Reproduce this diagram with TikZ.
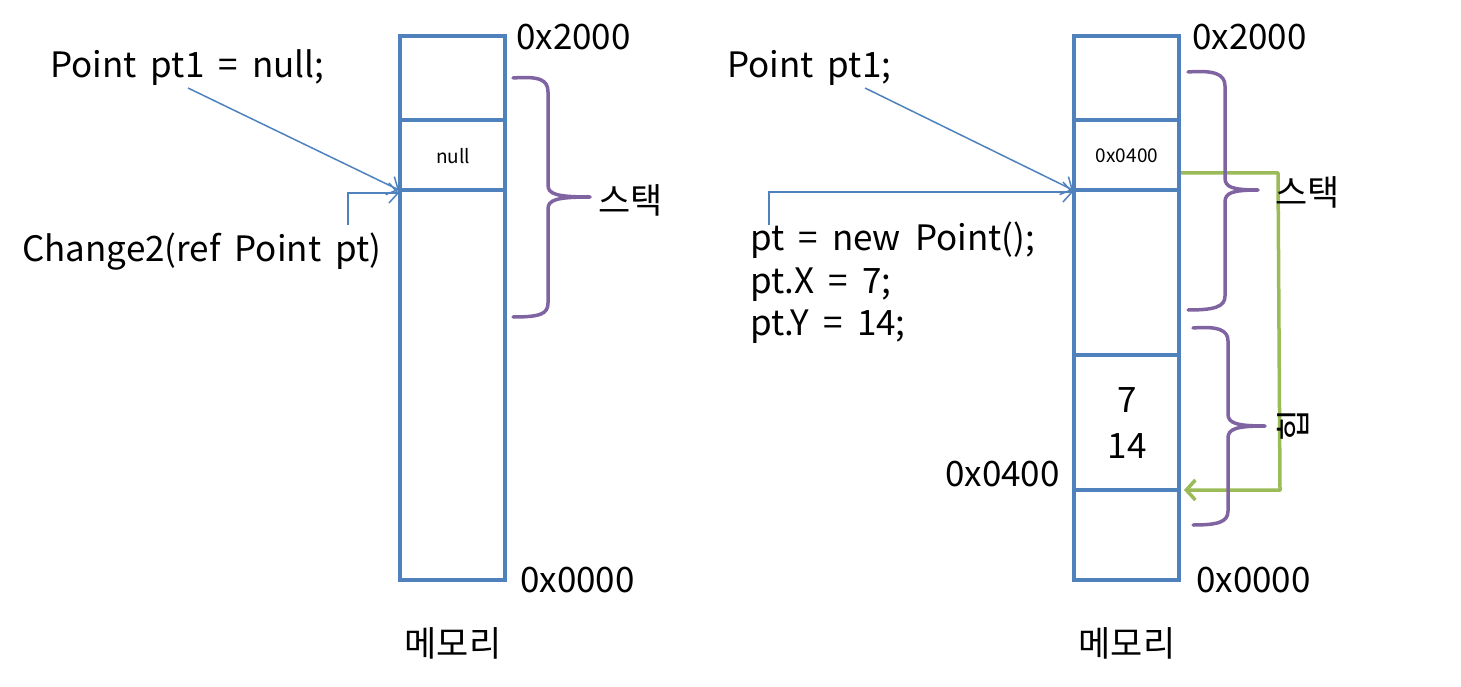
\documentclass[tikz,border=0pt]{standalone}
\usepackage{fontspec}
\setmainfont[WordSpace=1.8]{Noto Sans CJK KR}
\usetikzlibrary{arrows.meta}
\definecolor{boxblue}{HTML}{4F81BD}
\definecolor{brpurple}{HTML}{8064A2}
\definecolor{argreen}{HTML}{9BBB59}
\begin{document}
\begin{tikzpicture}[x=1pt,y=-1pt,
  txt/.style={font=\fontsize{35}{40}\selectfont, inner sep=0pt, anchor=west},
  ctxt/.style={font=\fontsize{35}{40}\selectfont, inner sep=0pt},
  small/.style={font=\fontsize{19}{22}\selectfont, inner sep=0pt},
  mem/.style={draw=boxblue, line width=3.5pt},
  brace/.style={draw=brpurple, line width=3.5pt, line cap=round, line join=round},
  ptr/.style={draw=boxblue, line width=1.5pt, -{Straight Barb[length=9pt,width=20pt,line width=1.5pt]}},
  heapptr/.style={draw=argreen, line width=3.5pt, line join=round, -{Straight Barb[length=9pt,width=20pt,line width=3.5pt]}},
]
\useasboundingbox (0,0) rectangle (1461,687);

% ---------- left memory ----------
\draw[mem] (400,36) rectangle (505,580);
\draw[mem] (400,120) -- (505,120);
\draw[mem] (400,190) -- (505,190);
\coordinate (Lslot) at (399,190);
\coordinate (Lslot2) at (399,193);
\node[small] (lnull) at (453,156) {null};
\node[txt] (ltop) at (516,37) {0x2000};
\node[txt] (lbot) at (520,580) {0x0000};
\node[ctxt] (lmem) at (453,643) {메모리};
\node[txt] (lpt1) at (50,68) {Point pt1 = null;};
\node[txt] (lchg) at (22,252) {Change2(ref Point pt)};
\coordinate (lpt1s) at (188,88);
\coordinate (lchgs) at (348,225);
\draw[ptr] (lpt1s) -- (Lslot);
\draw[ptr] (lchgs) |- (Lslot2);
\draw[brace] (513,78) .. controls (540,76) and (548,80) .. (548,92) -- (548,185)
  .. controls (548,194) and (556,197) .. (590,197)
  (590,197) .. controls (556,197) and (548,200) .. (548,209) -- (548,303)
  .. controls (548,314) and (540,317) .. (513,317);
\node[txt] (lstack) at (598,200) {스택};

% ---------- right memory ----------
\draw[mem] (1074,36) rectangle (1179,580);
\draw[mem] (1074,120) -- (1179,120);
\draw[mem] (1074,190) -- (1179,190);
\draw[mem] (1074,355) -- (1179,355);
\draw[mem] (1074,490) -- (1179,490);
\coordinate (Rslot) at (1073,190);
\coordinate (Rslot2) at (1073,192);
\node[small] (rref) at (1127,156) {0x0400};
\node[ctxt] (r7) at (1127,400) {7};
\node[ctxt] (r14) at (1127,446) {14};
\node[txt] (rtop) at (1192,37) {0x2000};
\node[txt] (rbot) at (1196,580) {0x0000};
\node[txt] (rheapaddr) at (945,474) {0x0400};
\node[ctxt] (rmem) at (1127,643) {메모리};
\node[txt] (rpt1) at (727,68) {Point pt1;};
\node[txt] (rl1) at (750,240) {pt = new Point();};
\node[txt] (rl2) at (750,285) {pt.X = 7;};
\node[txt] (rl3) at (750,327) {pt.Y = 14;};
\coordinate (rpt1s) at (865,88);
\coordinate (rcodes) at (769,225);
\draw[ptr] (rpt1s) -- (Rslot);
\draw[ptr] (rcodes) |- (Rslot2);
% green reference arrow
\coordinate (gstart) at (1181,173);
\coordinate (gc1) at (1278,173);
\coordinate (gc2) at (1280,490);
\coordinate (gend) at (1184,490);
\draw[heapptr] (gstart) -- (gc1) -- (gc2) -- (gend);
% stack brace
\draw[brace] (1188,72) .. controls (1214,70) and (1225,74) .. (1225,86) -- (1225,178)
  .. controls (1225,187) and (1232,190) .. (1258,190)
  (1258,190) .. controls (1232,190) and (1225,193) .. (1225,202) -- (1225,296)
  .. controls (1225,307) and (1214,310) .. (1188,310);
\node[txt] (rstack) at (1275,192) {스택};
% heap brace
\draw[brace] (1193,328) .. controls (1218,326) and (1228,330) .. (1228,341) -- (1228,414)
  .. controls (1228,423) and (1236,426) .. (1265,426)
  (1265,426) .. controls (1236,426) and (1228,429) .. (1228,438) -- (1228,511)
  .. controls (1228,522) and (1218,525) .. (1193,525);
\node[ctxt, rotate=90] (rheap) at (1293,425) {힙};
\end{tikzpicture}
\end{document}
